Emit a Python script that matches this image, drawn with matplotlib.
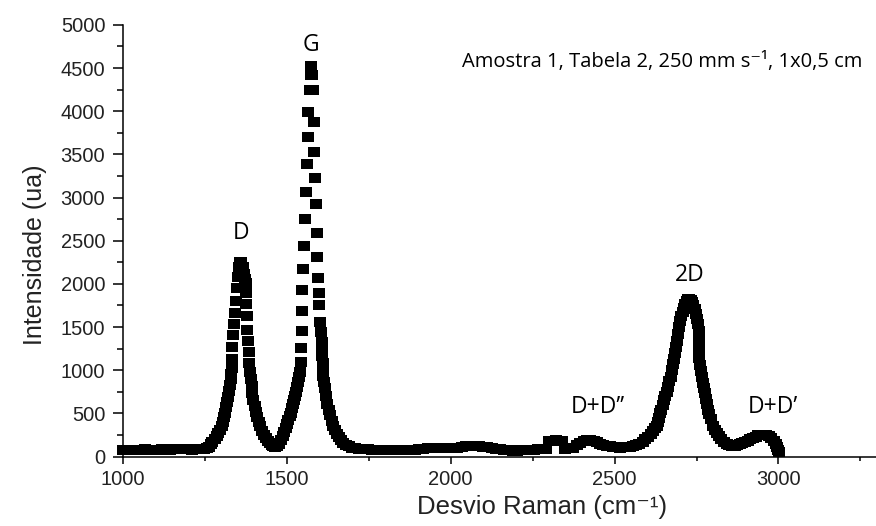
import numpy as np
import matplotlib
matplotlib.use("Agg")
import matplotlib.pyplot as plt
from matplotlib.ticker import MultipleLocator

shift_base1 = [1002, 1015, 1028, 1041, 1054, 1067, 1080, 1093, 1106, 1119, 1132, 1145, 1158, 1171,
               1184, 1197, 1210, 1223, 1236, 1248, 1256]
int_base1 = [72, 78, 75, 80, 77, 82, 79, 76, 80, 84, 80, 78, 86, 90,
             88, 82, 80, 84, 86, 92, 100]

shift_D = [1262, 1268, 1274, 1281, 1287, 1292, 1297, 1302, 1306, 1310, 1313, 1316, 1319, 1322,
           1325, 1327, 1329, 1331, 1332, 1333, 1335, 1337, 1340, 1343, 1346, 1349, 1352, 1355,
           1358, 1362, 1366, 1370, 1373,
           1375, 1375, 1376, 1378, 1380, 1382, 1384, 1386, 1388, 1390, 1393, 1396, 1399, 1403,
           1407, 1411, 1415, 1419, 1424, 1430, 1437, 1443, 1449, 1455]
int_D = [112, 140, 170, 205, 240, 275, 310, 350, 400, 455, 510, 570, 630, 690,
         760, 830, 895, 960, 1027, 1131, 1267, 1410, 1537, 1664, 1807, 1950, 2080, 2190,
         2255, 2250, 2200, 2120, 2060,
         2014, 1898, 1766, 1632, 1467, 1340, 1216, 1082, 980, 900, 820, 740, 660, 585,
         520, 460, 400, 350, 300, 255, 210, 180, 158, 135]

shift_G = [1460, 1465, 1470, 1476, 1482, 1488, 1493, 1497, 1501, 1505, 1509, 1513, 1517, 1521,
           1524, 1527, 1530, 1533, 1536, 1539, 1541, 1544, 1544, 1546, 1547, 1548, 1551, 1553,
           1556, 1559, 1561, 1565, 1565, 1570, 1573, 1575,
           1578, 1580, 1583, 1584, 1586, 1589, 1592, 1594, 1595, 1598, 1599, 1602, 1604, 1607,
           1608, 1609, 1610, 1611, 1612, 1614, 1616, 1620, 1624, 1628, 1632, 1637, 1642, 1647,
           1653, 1659, 1666, 1673, 1681, 1690, 1700, 1710]
int_G = [118, 108, 118, 148, 190, 235, 285, 330, 375, 420, 465, 510, 560, 610,
         655, 700, 750, 805, 860, 920, 981, 1097, 1259, 1456, 1688, 1931, 2174, 2438,
         2750, 3063, 3390, 3700, 3990, 4250, 4420, 4520,
         4420, 4250, 3880, 3527, 3226, 2924, 2588, 2313, 2068, 1894, 1757, 1560, 1442, 1328,
         1240, 1160, 1080, 1000, 930, 860, 790, 700, 610, 540, 480, 410, 355, 310,
         265, 225, 190, 160, 135, 118, 105, 98]

shift_base2 = [1722, 1735, 1748, 1761, 1774, 1787, 1800, 1813, 1826, 1839, 1852, 1865, 1878, 1891,
               1904, 1917, 1930, 1943, 1956, 1969, 1982, 1995, 2008, 2021, 2034, 2047, 2060, 2073,
               2086, 2099, 2112, 2125, 2138, 2151, 2164, 2177, 2190, 2203, 2216, 2229, 2242, 2255,
               2268, 2281, 2292]
int_base2 = [92, 86, 82, 80, 77, 78, 74, 76, 79, 75, 77, 74, 78, 80,
             84, 90, 96, 100, 97, 99, 104, 100, 96, 103, 110, 118, 124, 128,
             122, 116, 110, 100, 90, 82, 76, 72, 70, 70, 72, 74, 77, 80,
             83, 86, 90]

shift_DD2 = [2300, 2310, 2320, 2330, 2340, 2350, 2362, 2374, 2386, 2396, 2406, 2416, 2426, 2436,
             2446, 2456, 2466, 2476, 2486, 2496, 2506, 2516, 2526, 2536, 2546, 2556, 2566, 2576,
             2586, 2594, 2602, 2610, 2618, 2624]
int_DD2 = [175, 185, 188, 186, 175, 92, 95, 105, 130, 155, 175, 190, 188, 178,
           165, 150, 138, 128, 120, 112, 106, 104, 106, 110, 116, 124, 135, 150,
           172, 200, 232, 265, 300, 330]

shift_2D = [2628, 2632, 2636, 2640, 2643, 2647, 2651, 2655, 2659, 2663, 2667, 2671, 2675, 2678,
            2681, 2684, 2687, 2690, 2693, 2696, 2700, 2704, 2708, 2712, 2716, 2720, 2724, 2728,
            2732, 2736, 2740, 2744, 2748, 2752, 2755, 2757, 2757, 2757, 2758, 2758, 2760, 2763,
            2766, 2769, 2772, 2775, 2778, 2781, 2785, 2789, 2794, 2800, 2806, 2812, 2818, 2826,
            2834, 2842, 2850, 2858]
int_2D = [350, 400, 450, 500, 541, 600, 660, 700, 745, 810, 870, 925, 1000, 1070,
          1130, 1200, 1270, 1340, 1420, 1506, 1570, 1630, 1680, 1720, 1765, 1800, 1822, 1828,
          1815, 1790, 1755, 1710, 1650, 1590, 1530, 1460, 1380, 1300, 1220, 1140, 1060, 990,
          920, 850, 790, 734, 670, 610, 545, 490, 435, 350, 310, 270, 235, 200,
          170, 148, 132, 125]

shift_DD1 = [2866, 2874, 2882, 2890, 2898, 2906, 2914, 2922, 2930, 2938, 2946, 2954, 2962, 2970,
             2978, 2985, 2991, 2996, 3000, 3003]
int_DD1 = [125, 130, 140, 152, 168, 185, 200, 218, 232, 245, 252, 250, 245, 235,
           215, 185, 150, 115, 80, 50]

raman_shift = np.concatenate([shift_base1, shift_D, shift_G, shift_base2, shift_DD2, shift_2D, shift_DD1])
intensity = np.concatenate([int_base1, int_D, int_G, int_base2, int_DD2, int_2D, int_DD1])

# rótulos dos picos
peak_labels = ["D", "G", "2D", "D+D\u2019\u2019", "D+D\u2019"]
peak_label_x = [1361, 1574, 2729, 2449, 2982]
peak_label_y = [2590, 4770, 2105, 576, 576]

fig = plt.figure(figsize=(8.76, 5.26), dpi=100)
ax = fig.add_axes([0.140, 0.132, 0.861, 0.8207])

rect = [(-1.25, -1), (1.25, -1), (1.25, 1), (-1.25, 1), (-1.25, -1)]
ax.plot(raman_shift, intensity, linestyle="none", marker=rect, markersize=8.8,
        color="black", markeredgewidth=0, clip_on=False)

ax.set_xlim(1000, 3300)
ax.set_ylim(0, 5000)
ax.xaxis.set_major_locator(MultipleLocator(500))
ax.xaxis.set_minor_locator(MultipleLocator(250))
ax.yaxis.set_major_locator(MultipleLocator(500))
ax.yaxis.set_minor_locator(MultipleLocator(250))

for s in ["top", "right"]:
    ax.spines[s].set_visible(False)
for s in ["left", "bottom"]:
    ax.spines[s].set_linewidth(1.1)

ax.tick_params(axis="y", which="major", length=7.5, width=1.1, pad=5)
ax.tick_params(axis="y", which="minor", length=4.3, width=1.1)
ax.tick_params(axis="x", which="major", length=5, width=1.1, pad=5)
ax.tick_params(axis="x", which="minor", length=3, width=1.1)
for lab in ax.get_xticklabels() + ax.get_yticklabels():
    lab.set_family(["Liberation Sans", "DejaVu Sans"])
    lab.set_fontsize(14.5)
    lab.set_color("#222222")

ax.set_xlabel("Desvio Raman (cm\u207b\u00b9)", family=["Liberation Sans", "DejaVu Sans"],
              fontsize=18.5, color="#222222")
ax.set_ylabel("Intensidade (ua)", family=["Liberation Sans", "DejaVu Sans"],
              fontsize=18, color="#222222")
ax.xaxis.set_label_coords(0.556, -0.09)
ax.yaxis.set_label_coords(-0.1, 0.467)

for txt, px, py in zip(peak_labels, peak_label_x, peak_label_y):
    ax.text(px, py, txt, ha="center", va="center", fontsize=16.5,
            family=["Open Sans", "DejaVu Sans"], color="black")

ax.text(2034, 4572, "Amostra 1, Tabela 2, 250 mm s\u207b\u00b9, 1x0,5 cm", ha="left", va="center",
        fontsize=14.5, family=["Open Sans", "DejaVu Sans"], color="black")

fig.savefig("out.png", dpi=100)
